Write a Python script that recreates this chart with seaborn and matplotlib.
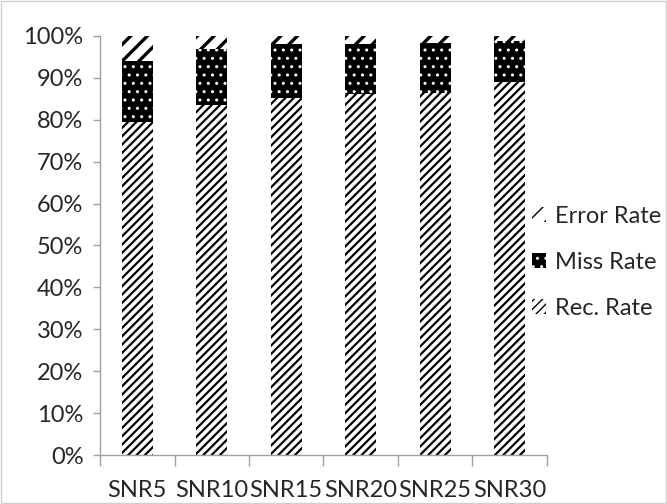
import numpy as np
import pandas as pd
import seaborn as sns
import matplotlib.pyplot as plt
from matplotlib.patches import Patch

# Data (percent)
snr = ['SNR5', 'SNR10', 'SNR15', 'SNR20', 'SNR25', 'SNR30']
rec_rate = [79.5, 83.5, 85.1, 86.1, 86.5, 89.0]
miss_rate = [14.5, 13.3, 12.9, 11.9, 11.9, 9.8]
error_rate = [6.0, 3.2, 2.0, 2.0, 1.6, 1.2]

df = pd.DataFrame({'snr': snr, 'rec': rec_rate, 'miss': miss_rate, 'err': error_rate})
df['top_miss'] = df['rec'] + df['miss']
df['top_err'] = df['top_miss'] + df['err']

sns.set_style('white')
plt.rcParams['font.family'] = ['Lato', 'DejaVu Sans']
fs = 17

fig = plt.figure(figsize=(6.67, 5.04), dpi=100)
ax = fig.add_axes([0.150, 0.0972, 0.670, 0.8314])

# stacked bars: draw cumulative totals, tallest first
# (column, label, face, hatch colour, hatch, hatch linewidth)
styles = [('top_err', 'Error Rate', 'white', 'black', '//', 2.4),
          ('top_miss', 'Miss Rate', 'black', 'white', '..', 1.0),
          ('rec', 'Rec. Rate', 'white', 'black', '////', 1.6)]


def style_patch(p, fc, hc, hatch, hlw):
    p.set_facecolor(fc)
    p.set_edgecolor(hc)
    p.set_hatch(hatch)
    p.set_linewidth(0)
    if hasattr(p, 'set_hatch_linewidth'):
        p.set_hatch_linewidth(hlw)


handles = []
for col, label, fc, hc, hatch, hlw in styles:
    n0 = len(ax.patches)
    sns.barplot(data=df, x='snr', y=col, color=fc, width=0.42, ax=ax,
                saturation=1, errorbar=None)
    for p in ax.patches[n0:]:
        style_patch(p, fc, hc, hatch, hlw)
    h = Patch(label=label)
    style_patch(h, fc, hc, hatch, hlw)
    handles.append(h)

ax.set_ylim(0, 100)
ax.set_xlim(-0.5, 5.5)
ax.set_yticks(np.arange(0, 101, 10))
ax.set_yticklabels([f'{v}%' for v in range(0, 101, 10)])
ax.set_xlabel('')
ax.set_ylabel('')

# x ticks at category boundaries, labels centered
ax.set_xticks(np.arange(-0.5, 6, 1), minor=False)
ax.set_xticklabels([])
ax.set_xticks(range(6), minor=True)
ax.set_xticklabels(snr, minor=True)
ax.tick_params(axis='x', which='major', length=8, width=1, color='#a0a0a0', direction='out', bottom=True)
ax.tick_params(axis='x', which='minor', length=0, pad=18, labelsize=fs)
ax.tick_params(axis='y', length=5, width=1, color='#a0a0a0', direction='out', left=True, labelsize=fs, pad=7)

for s in ['top', 'right']:
    ax.spines[s].set_visible(False)
for s in ['left', 'bottom']:
    ax.spines[s].set_color('#a0a0a0')
    ax.spines[s].set_linewidth(1)

ax.legend(handles=handles, loc='center left', bbox_to_anchor=(0.966, 0.46),
          frameon=False, fontsize=fs, handlelength=0.6, handleheight=0.6,
          handletextpad=0.4, labelspacing=1.05, borderaxespad=0, borderpad=0)

fig.patches.append(plt.Rectangle((0.002, 0.002), 0.996, 0.996, transform=fig.transFigure,
                                 fill=False, edgecolor='#d0d0d0', linewidth=1))

fig.savefig('out.png', dpi=100)
